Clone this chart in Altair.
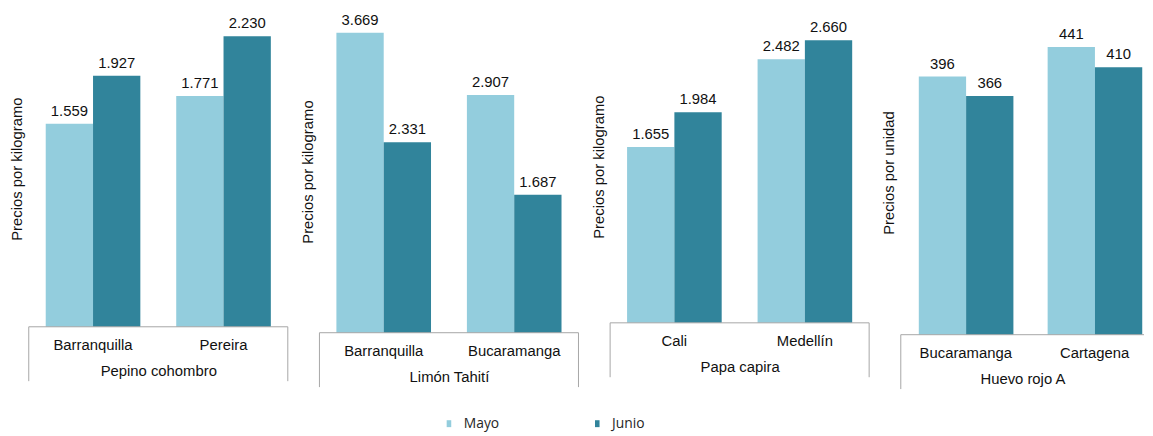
import altair as alt
import pandas as pd

products = ["Pepino cohombro", "Limón Tahití", "Papa capira", "Huevo rojo A"]
cities = [["Barranquilla", "Pereira"], ["Barranquilla", "Bucaramanga"],
          ["Cali", "Medellín"], ["Bucaramanga", "Cartagena"]]
months = ["Mayo", "Junio"]
mayo = [[1559, 1771], [3669, 2907], [1655, 2482], [396, 441]]
junio = [[1927, 2230], [2331, 1687], [1984, 2660], [366, 410]]
y_titles = ["Precios por kilogramo", "Precios por kilogramo",
            "Precios por kilogramo", "Precios por unidad"]
y_max = [2428, 3943, 2942, 497.3]

colors = ["#93CDDD", "#31849B"]
GRAY = "#A6A6A6"
TXT = "#111111"
FONT = "Liberation Sans"

heights = [320, 326, 316, 328]
widths = [262, 262, 262, 246]
BOX = 55


def panel(i):
    w, h = widths[i], heights[i]
    rows = []
    for j, c in enumerate(cities[i]):
        rows.append({"city": c, "month": "Mayo", "value": mayo[i][j]})
        rows.append({"city": c, "month": "Junio", "value": junio[i][j]})
    df = pd.DataFrame(rows)
    base = alt.Chart(df).transform_calculate(
        label="replace(format(datum.value, ',.0f'), ',', '.')"
    )
    if i == 3:
        xs = alt.Scale(domain=cities[i], paddingInner=0.271, paddingOuter=0.0794, align=0.88)
    else:
        xs = alt.Scale(domain=cities[i], paddingInner=0.275, paddingOuter=0.13)
    x = alt.X("city:N", scale=xs, sort=cities[i],
              axis=alt.Axis(title=products[i], domain=False, ticks=False, labelAngle=0,
                            labelPadding=11, titlePadding=11, labelFont=FONT,
                            labelFontSize=15, labelColor=TXT, titleFont=FONT,
                            titleFontSize=15, titleFontWeight="normal", titleColor=TXT,
                            grid=False))
    xo = alt.XOffset("month:N", scale=alt.Scale(domain=months), sort=months)
    y = alt.Y("value:Q", scale=alt.Scale(domain=[0, y_max[i]], nice=False),
              axis=alt.Axis(title=y_titles[i], domain=False, ticks=False, labels=False,
                            grid=False, titlePadding=4, titleFont=FONT, titleFontSize=15,
                            titleFontWeight="normal", titleColor=TXT))
    bars = base.mark_bar().encode(
        x=x, xOffset=xo, y=y,
        color=alt.Color("month:N", scale=alt.Scale(domain=months, range=colors),
                        sort=months, title=None),
    )
    labels = base.mark_text(dy=-8, baseline="alphabetic", font=FONT, fontSize=15,
                            color=TXT).encode(x=x, xOffset=xo, y=y, text="label:N")
    one = alt.Chart(pd.DataFrame({"k": [0]}))
    top = one.mark_rule(color=GRAY, strokeWidth=1).encode(
        x=alt.value(0), x2=alt.value(w), y=alt.value(h))
    left = one.mark_rule(color=GRAY, strokeWidth=1).encode(
        x=alt.value(0), y=alt.value(h), y2=alt.value(h + BOX))
    layers = [bars, labels, top, left]
    if i < 3:
        right = one.mark_rule(color=GRAY, strokeWidth=1).encode(
            x=alt.value(w), y=alt.value(h), y2=alt.value(h + BOX))
        layers.append(right)
    return alt.layer(*layers).properties(width=w, height=h)


chart = alt.hconcat(*[panel(i) for i in range(4)], spacing=32, bounds="flush").properties(
    padding={"left": 2, "top": 0, "right": 0, "bottom": 0}
).configure_view(stroke=None).configure_legend(
    orient="none", legendX=418, legendY=411, direction="horizontal",
    symbolType="M-0.33,-0.5H0.33V0.5H-0.33Z", symbolSize=196, symbolStrokeWidth=0,
    symbolOpacity=1, labelFont="Open Sans", labelFontSize=14, labelColor="#262626",
    labelOffset=8, columnPadding=92, padding=0,
)

chart.save("out.html", embed_options={"renderer": "svg", "actions": False})
